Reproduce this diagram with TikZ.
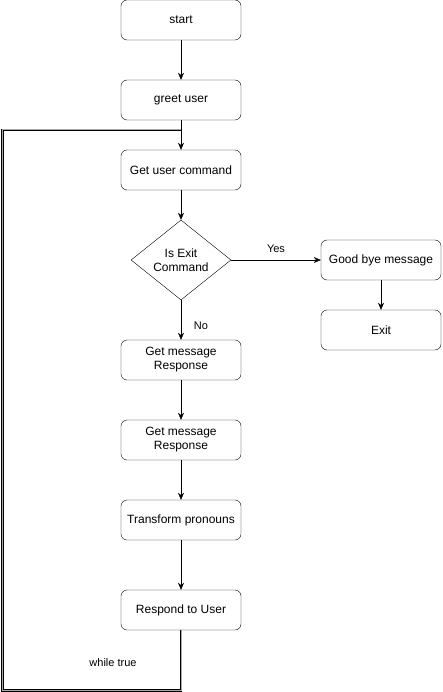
\documentclass[tikz,border=0pt]{standalone}
\usepackage{fontspec}
\setmainfont{Liberation Sans}
\usetikzlibrary{shapes.geometric,arrows.meta}

\tikzset{
	stepbox/.style={draw,rounded corners=6pt,minimum width=120pt,minimum height=40pt,align=center,font=\fontsize{12}{14}\selectfont},
	decision/.style={draw,diamond,aspect=1.25,minimum width=100pt,minimum height=80pt,inner sep=0pt,align=center,font=\fontsize{12}{14}\selectfont},
	flow/.style={-{Stealth[length=7pt,width=6pt]}},
	note/.style={font=\fontsize{11}{13}\selectfont}
}

\begin{document}
\begin{tikzpicture}[x=1pt,y=-1pt]%[1px = 1pt]
	\useasboundingbox (0,0) rectangle (442,692);
	% main column
	\node[stepbox] (start) at (181,20) {start};
	\node[stepbox] (greet) at (181,100) {greet user};
	\node[stepbox] (getcmd) at (181,170) {Get user command};
	\node[decision] (isexit) at (181,260) {Is Exit\\Command};
	\node[stepbox] (getmsgA) at (181,360) {Get message\\Response};
	\node[stepbox] (getmsgB) at (181,440) {Get message\\Response};
	\node[stepbox] (transform) at (181,520) {Transform pronouns};
	\node[stepbox] (respond) at (181,610) {Respond to User};
	% exit branch
	\node[stepbox] (bye) at (381,260) {Good bye message};
	\node[stepbox] (exit) at (381,330) {Exit};
	\coordinate (loopend) at (181,130);
	\foreach \a/\b in {start/greet,greet/getcmd,getcmd/isexit,isexit/getmsgA,getmsgA/getmsgB,getmsgB/transform,transform/respond,isexit/bye,bye/exit}
	\draw[flow] (\a) -- (\b);
	% loop back
	\draw[line width=0.8pt,double=gray!70,double distance=1pt] (respond.south) -- ++(0,60) -| (2.5,130) -- (loopend);
	\node[note] (yes) at (276,249) {Yes};
	\node[note] (no) at (201,326) {No};
	\node[note] (while) at (113,663) {while true};
\end{tikzpicture}
\end{document}
